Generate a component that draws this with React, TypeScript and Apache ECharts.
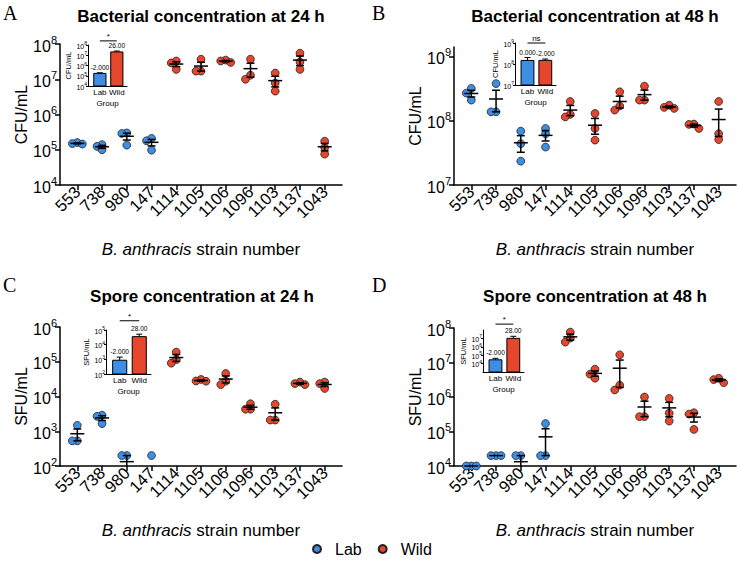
import React, { useEffect, useRef } from 'react';
import * as echarts from 'echarts';

const strains = ['553', '738', '980', '147', '1114', '1105', '1106', '1096', '1103', '1137', '1043'];
const labCount = 4;
const groupNames = ['Lab', 'Wild'];

// A: bacterial concentration at 24 h (CFU/mL), three replicates per strain
const bact24 = [
  [1.5e5, 1.6e5, 1.45e5],
  [1.0e5, 1.4e5, 1.25e5],
  [2.9e5, 3.0e5, 1.35e5],
  [1.8e5, 2.1e5, 0.97e5],
  [2.9e7, 3.3e7, 1.9e7],
  [3.7e7, 1.7e7, 1.7e7],
  [3.0e7, 3.5e7, 3.3e7],
  [3.7e7, 1.0e7, 1.3e7],
  [1.5e7, 7.8e6, 4.6e6],
  [5.5e7, 3.1e7, 1.9e7],
  [1.75e5, 1.15e5, 7.5e4],
];
// B: bacterial concentration at 48 h (CFU/mL)
const bact48 = [
  [2.7e8, 3.2e8, 2.1e8],
  [3.8e8, 1.38e8, 1.38e8],
  [6.9e7, 4.4e7, 2.35e7],
  [6.3e7, 7.6e7, 3.9e7],
  [2.0e8, 1.15e8, 1.26e8],
  [1.3e8, 7.6e7, 5.0e7],
  [2.83e8, 1.47e8, 1.7e8],
  [3.47e8, 2.1e8, 2.1e8],
  [1.56e8, 1.75e8, 1.62e8],
  [7.6e7, 8.9e7, 8.8e7],
  [2.0e8, 5.1e7, 6.3e7],
];
// C: spore concentration at 24 h (SFU/mL); 0 = below detection
const spore24 = [
  [1.48e3, 5.3e2, 5.3e2],
  [2.7e3, 1.66e3, 2.9e3],
  [2.0e2, 2.0e2, 0],
  [2.0e2, 0, 0],
  [1.9e5, 9.1e4, 1.15e5],
  [2.75e4, 3.1e4, 2.8e4],
  [4.6e4, 2.2e4, 2.75e4],
  [4.3e3, 6.2e3, 4.3e3],
  [6.0e3, 2.1e3, 2.1e3],
  [2.2e4, 2.6e4, 2.35e4],
  [1.7e4, 2.6e4, 2.35e4],
];
// D: spore concentration at 48 h (SFU/mL)
const spore48 = [
  [1e4, 1e4, 1e4],
  [2e4, 2e4, 2e4],
  [2e4, 2e4, 0],
  [1.7e5, 2e4, 2e4],
  [7.6e7, 3.9e7, 5.1e7],
  [6.4e6, 3.5e6, 4.6e6],
  [1.67e7, 2.2e6, 1.6e6],
  [1.0e6, 2.7e5, 2.7e5],
  [9.1e5, 2.0e5, 3.4e5],
  [3.2e5, 3.5e5, 1.15e5],
  [2.6e6, 3.5e6, 3.2e6],
];

const insetLabelsA = ['-2.000', '26.00'];
const insetLabelsB = ['0.000', '-2.000'];
const insetLabelsC = ['-2.000', '28.00'];
const insetLabelsD = ['-2.000', '28.00'];
const sigMarks = ['*', 'ns', '*', '*'];

const FONT = '"Liberation Sans", Arial, Helvetica, sans-serif';
const SERIF = '"Liberation Serif", "Times New Roman", serif';
const BLUE = '#3d8fe6';
const RED = '#e6462b';
const EDGE = '#222';

type Rect = { left: number; top: number; width: number; height: number };
type Panel = {
  letter: string;
  title: string;
  yName: string;
  data: number[][];
  insetLabels: string[];
  sig: string;
  grid: Rect;
  yRange: [number, number];
  inset: Rect;
  insetRange: [number, number];
  sigLevel: number;
  letterPos: [number, number];
  titlePos: [number, number];
};

const panels: Panel[] = [
  {
    letter: 'A', title: 'Bacterial concentration at 24 h', yName: 'CFU/mL', data: bact24,
    insetLabels: insetLabelsA, sig: sigMarks[0],
    grid: { left: 60, top: 44, width: 282, height: 141 }, yRange: [4, 8],
    inset: { left: 88, top: 45, width: 39, height: 41 }, insetRange: [4, 8], sigLevel: 8.4,
    letterPos: [3, 3], titlePos: [201, 8],
  },
  {
    letter: 'B', title: 'Bacterial concentration at 48 h', yName: 'CFU/mL', data: bact48,
    insetLabels: insetLabelsB, sig: sigMarks[1],
    grid: { left: 454, top: 47, width: 282, height: 138 }, yRange: [7, 9.15],
    inset: { left: 515, top: 43, width: 41, height: 42 }, insetRange: [7, 9], sigLevel: 9.0,
    letterPos: [372, 3], titlePos: [595, 8],
  },
  {
    letter: 'C', title: 'Spore concentration at 24 h', yName: 'SFU/mL', data: spore24,
    insetLabels: insetLabelsC, sig: sigMarks[2],
    grid: { left: 60, top: 327, width: 282, height: 139 }, yRange: [2, 6],
    inset: { left: 106, top: 330, width: 45, height: 44 }, insetRange: [2, 5], sigLevel: 5.63,
    letterPos: [3, 275], titlePos: [202, 288],
  },
  {
    letter: 'D', title: 'Spore concentration at 48 h', yName: 'SFU/mL', data: spore48,
    insetLabels: insetLabelsD, sig: sigMarks[3],
    grid: { left: 454, top: 328, width: 282, height: 138 }, yRange: [4, 8],
    inset: { left: 483, top: 330, width: 41, height: 42 }, insetRange: [3, 8], sigLevel: 8.7,
    letterPos: [372, 275], titlePos: [595, 288],
  },
];

const mean = (a: number[]) => a.reduce((s, v) => s + v, 0) / a.length;
const sem = (a: number[]) => {
  if (a.length < 2) return 0;
  const m = mean(a);
  const sd = Math.sqrt(a.reduce((s, v) => s + (v - m) * (v - m), 0) / (a.length - 1));
  return sd / Math.sqrt(a.length);
};
const intsIn = (r: [number, number]) => {
  const out: number[] = [];
  for (let v = Math.ceil(r[0] - 1e-9); v <= r[1] + 1e-9; v++) out.push(v);
  return out;
};
const logv = (v: number, floor: number) => (v > 0 ? Math.max(Math.log10(v), floor) : floor);

function buildOption() {
  const grid: any[] = [];
  const xAxis: any[] = [];
  const yAxis: any[] = [];
  const series: any[] = [];
  const graphic: any[] = [];

  panels.forEach((p, pi) => {
    const gMain = pi * 2;
    const gIn = pi * 2 + 1;
    grid.push({ ...p.grid, containLabel: false });
    grid.push({ ...p.inset, containLabel: false });
    const idx = strains.map((_, i) => i);

    xAxis.push({
      gridIndex: gMain, type: 'value', min: -0.7, max: 10.7,
      axisLine: { onZero: false, lineStyle: { color: '#000', width: 1.5 } },
      axisTick: { customValues: idx, length: 5, lineStyle: { color: '#000', width: 1.5 } },
      axisLabel: {
        customValues: idx, formatter: (v: number) => strains[Math.round(v)] ?? '',
        rotate: 45, fontSize: 16.5, color: '#000', fontFamily: FONT, margin: 4,
      },
      splitLine: { show: false },
      name: '{i|B. anthracis} strain number', nameLocation: 'middle', nameGap: 56,
      nameTextStyle: {
        fontSize: 17, color: '#000', fontFamily: FONT,
        rich: { i: { fontStyle: 'italic', fontSize: 17, color: '#000', fontFamily: FONT } },
      },
    });
    const yTicks = intsIn(p.yRange);
    yAxis.push({
      gridIndex: gMain, type: 'value', min: p.yRange[0], max: p.yRange[1],
      axisLine: { show: true, onZero: false, lineStyle: { color: '#000', width: 1.5 } },
      axisTick: { show: true, customValues: yTicks, length: 5, lineStyle: { color: '#000', width: 1.5 } },
      axisLabel: {
        customValues: yTicks, margin: 3,
        formatter: (v: number) => `{b|10}{s|${Math.round(v)}}`,
        rich: {
          b: { fontSize: 16, color: '#000', fontFamily: FONT, lineHeight: 20, verticalAlign: 'bottom' },
          s: { fontSize: 11, color: '#000', fontFamily: FONT, lineHeight: 20, verticalAlign: 'top' },
        },
      },
      splitLine: { show: false },
      name: p.yName, nameLocation: 'middle', nameGap: 31,
      nameTextStyle: { fontSize: 16, color: '#000', fontFamily: FONT },
    });

    // inset axes
    xAxis.push({
      gridIndex: gIn, type: 'value', min: -0.7, max: 1.6,
      axisLine: { onZero: false, lineStyle: { color: '#000', width: 1 } },
      axisTick: { show: false },
      axisLabel: {
        customValues: [0, 1], formatter: (v: number) => groupNames[Math.round(v)] ?? '',
        fontSize: 8, color: '#000', fontFamily: FONT, margin: 2,
      },
      splitLine: { show: false },
      name: 'Group', nameLocation: 'middle', nameGap: 13,
      nameTextStyle: { fontSize: 8, color: '#000', fontFamily: FONT },
    });
    const iTicks = intsIn(p.insetRange);
    yAxis.push({
      gridIndex: gIn, type: 'value', min: p.insetRange[0], max: p.insetRange[1],
      axisLine: { show: true, onZero: false, lineStyle: { color: '#000', width: 1 } },
      axisTick: { show: true, customValues: iTicks, length: 2, lineStyle: { color: '#000', width: 1 } },
      axisLabel: {
        customValues: iTicks, margin: 1,
        formatter: (v: number) => `{b|10}{s|${Math.round(v)}}`,
        rich: {
          b: { fontSize: 7, color: '#000', fontFamily: FONT, lineHeight: 9, verticalAlign: 'bottom' },
          s: { fontSize: 5, color: '#000', fontFamily: FONT, lineHeight: 9, verticalAlign: 'top' },
        },
      },
      splitLine: { show: false },
      name: p.yName, nameLocation: 'middle', nameGap: 15,
      nameTextStyle: { fontSize: 7.5, color: '#000', fontFamily: FONT },
    });

    const ymin = p.yRange[0];
    const makeMain = (name: string, color: string, from: number, to: number) => ({
      type: 'custom', name, xAxisIndex: gMain, yAxisIndex: gMain, clip: false, silent: true, z: 3,
      itemStyle: { color, borderColor: EDGE, borderWidth: 0.8 },
      data: idx.slice(from, to).map((i) => [i, logv(mean(p.data[i]), ymin)]),
      renderItem: (params: any, api: any) => {
        const i = api.value(0);
        const vals = p.data[i];
        const cx = api.coord([i, ymin])[0];
        const pts = vals
          .filter((v) => v > 0 && Math.log10(v) >= ymin - 1e-9)
          .map((v) => ({ v, y: api.coord([i, Math.log10(v)])[1], x: cx }))
          .sort((a, b) => b.v - a.v);
        const placed: { x: number; y: number }[] = [];
        const step = 5;
        const offs = [0, -step, step, -2 * step, 2 * step];
        pts.forEach((pt) => {
          for (const o of offs) {
            const x = cx + o;
            if (placed.every((q) => Math.hypot(q.x - x, q.y - pt.y) >= step - 0.01)) {
              pt.x = x;
              break;
            }
          }
          placed.push({ x: pt.x, y: pt.y });
        });
        const children: any[] = pts.map((pt) => ({
          type: 'circle', shape: { cx: pt.x, cy: pt.y, r: 3.9 },
          style: { fill: color, stroke: EDGE, lineWidth: 0.8 },
        }));
        const m = mean(vals);
        const s = sem(vals);
        if (m >= Math.pow(10, ymin) - 1e-9) {
          const yM = api.coord([i, Math.log10(m)])[1];
          const yT = api.coord([i, logv(m + s, ymin)])[1];
          const lowOk = m - s > Math.pow(10, ymin);
          const yB = api.coord([i, logv(m - s, ymin)])[1];
          const ls = { stroke: '#000', lineWidth: 1.5 };
          children.push({ type: 'line', shape: { x1: cx, y1: yT, x2: cx, y2: yB }, style: ls });
          children.push({ type: 'line', shape: { x1: cx - 7, y1: yM, x2: cx + 7, y2: yM }, style: ls });
          if (s > 0) {
            children.push({ type: 'line', shape: { x1: cx - 4, y1: yT, x2: cx + 4, y2: yT }, style: ls });
            if (lowOk) children.push({ type: 'line', shape: { x1: cx - 4, y1: yB, x2: cx + 4, y2: yB }, style: ls });
          }
        }
        return { type: 'group', children };
      },
    });
    series.push(makeMain('Lab', BLUE, 0, labCount));
    series.push(makeMain('Wild', RED, labCount, strains.length));

    // inset: group means of strain means, mean + SEM
    const strainMeans = p.data.map(mean);
    const groups = [strainMeans.slice(0, labCount), strainMeans.slice(labCount)];
    const gMean = groups.map(mean);
    const gSem = groups.map(sem);
    const imin = p.insetRange[0];
    series.push({
      type: 'custom', name: 'inset' + pi, xAxisIndex: gIn, yAxisIndex: gIn, clip: false, silent: true, z: 5,
      data: gMean.map((m, j) => [j, logv(m, imin)]),
      renderItem: (params: any, api: any) => {
        const j = api.value(0);
        const color = j === 0 ? BLUE : RED;
        const top = api.coord([j + 0.36, logv(gMean[j], imin)]);
        const bot = api.coord([j - 0.36, imin]);
        const cx = api.coord([j, imin])[0];
        const yE = api.coord([j, logv(gMean[j] + gSem[j], imin)])[1];
        const children: any[] = [
          { type: 'line', shape: { x1: cx, y1: top[1], x2: cx, y2: yE }, style: { stroke: '#000', lineWidth: 1 } },
          { type: 'line', shape: { x1: cx - 3, y1: yE, x2: cx + 3, y2: yE }, style: { stroke: '#000', lineWidth: 1 } },
          {
            type: 'rect', shape: { x: bot[0], y: top[1], width: top[0] - bot[0], height: bot[1] - top[1] },
            style: { fill: color, stroke: '#000', lineWidth: 1 },
          },
          {
            type: 'text',
            style: {
              text: p.insetLabels[j], x: cx, y: yE - 2, align: 'center', verticalAlign: 'bottom',
              fontSize: 6.6, fontFamily: FONT, fill: '#000',
            },
          },
        ];
        if (j === 1) {
          const a = api.coord([0, p.sigLevel]);
          const b = api.coord([1, p.sigLevel]);
          children.push({ type: 'line', shape: { x1: a[0], y1: a[1], x2: b[0], y2: b[1] }, style: { stroke: '#000', lineWidth: 1 } });
          children.push({
            type: 'text',
            style: {
              text: p.sig, x: (a[0] + b[0]) / 2, y: a[1] - 0.5, align: 'center', verticalAlign: 'bottom',
              fontSize: 8, fontFamily: FONT, fill: '#000',
            },
          });
        }
        return { type: 'group', children };
      },
    });

    graphic.push({
      type: 'text', x: p.letterPos[0], y: p.letterPos[1],
      style: { text: p.letter, fontSize: 20, fontFamily: SERIF, fill: '#000', align: 'left', verticalAlign: 'top' },
    });
    graphic.push({
      type: 'text', x: p.titlePos[0], y: p.titlePos[1],
      style: {
        text: p.title, fontSize: 17, fontWeight: 'bold', fontFamily: FONT, fill: '#000',
        align: 'center', verticalAlign: 'top',
      },
    });
  });

  return {
    animation: false,
    backgroundColor: '#fff',
    grid, xAxis, yAxis, series, graphic,
    legend: {
      data: groupNames, left: 312, top: 541, padding: 0, icon: 'circle', itemWidth: 26, itemHeight: 8, itemGap: 16,
      textStyle: { fontSize: 16, lineHeight: 16, fontFamily: FONT, color: '#000' }, selectedMode: false,
    },
  };
}

export default function App() {
  const ref = useRef<HTMLDivElement>(null);
  useEffect(() => {
    if (!ref.current) return;
    const chart = echarts.init(ref.current, undefined, { renderer: 'svg' });
    chart.setOption(buildOption() as any);
    return () => chart.dispose();
  }, []);
  return <div ref={ref} style={{ position: 'fixed', left: 0, top: 0, width: 738, height: 561, background: '#fff' }} />;
}
